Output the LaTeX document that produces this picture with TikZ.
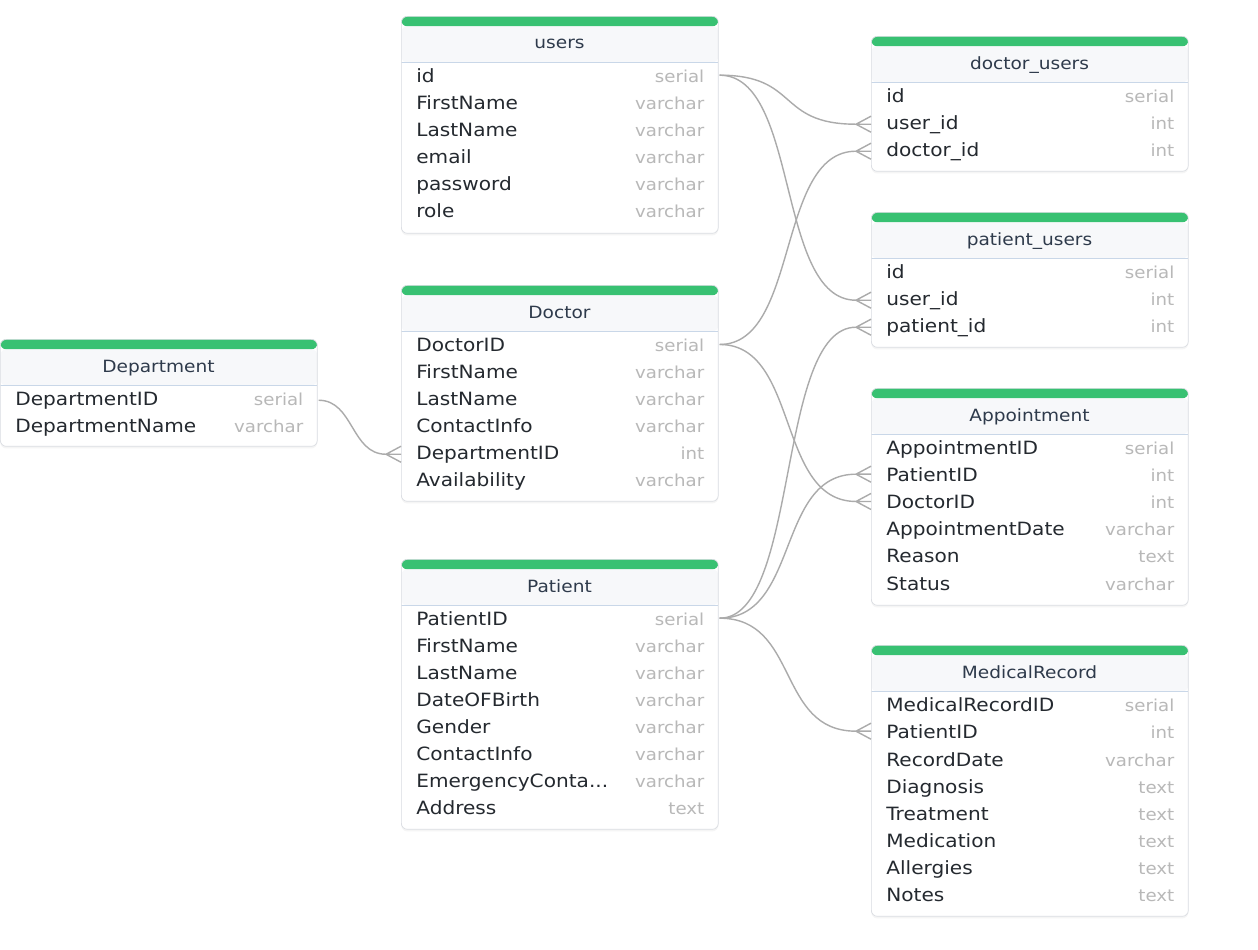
\documentclass[tikz,border=0pt]{standalone}
\usepackage{fontspec}
\setmainfont[FakeStretch=1.1]{DejaVu Sans}
\usetikzlibrary{shadows}

\definecolor{tgreen}{HTML}{38C172}
\definecolor{headbg}{HTML}{F7F8FA}
\definecolor{headline}{HTML}{C9D7E8}
\definecolor{frameline}{HTML}{DADDE2}
\definecolor{rowtext}{HTML}{24292F}
\definecolor{titletext}{HTML}{2E3A4B}
\definecolor{typegray}{HTML}{B8B8B8}
\definecolor{linkgray}{HTML}{ABABAB}

\newcommand\dtype[1]{{\color{typegray}\fontsize{9.4}{11}\selectfont #1}}

\tikzset{
  tbl/.style={draw=frameline, fill=white, rounded corners=0.12cm, anchor=north west,
    minimum width=6.34cm, inner sep=0,
    drop shadow={shadow xshift=0pt, shadow yshift=-1.2pt, opacity=0.08},
    path picture={
      \fill[tgreen] (path picture bounding box.north west) rectangle ([yshift=-0.2cm]path picture bounding box.north east);
      \fill[headbg] ([yshift=-0.2cm]path picture bounding box.north west) rectangle ([yshift=-0.92cm]path picture bounding box.north east);
      \draw[headline, line width=0.7pt] ([yshift=-0.92cm]path picture bounding box.north west) -- ([yshift=-0.92cm]path picture bounding box.north east);
    }},
  title/.style={anchor=base, inner sep=0, text=titletext, font=\fontsize{9.6}{11}\selectfont},
  row/.style={anchor=base west, text width=5.76cm, inner xsep=0.3cm, inner ysep=0,
    text=rowtext, font=\fontsize{10.4}{12}\selectfont},
  rel/.style={draw=linkgray, line width=0.8pt,
    to path={(\tikztostart.east) .. controls +(#1,0) and +(-#1,0) .. ([xshift=-0.3cm]\tikztotarget.west)
      -- (\tikztotarget.west)
      ([xshift=-0.3cm]\tikztotarget.west) -- ([yshift=0.16cm]\tikztotarget.west)
      ([xshift=-0.3cm]\tikztotarget.west) -- ([yshift=-0.16cm]\tikztotarget.west)}},
  rel/.default=80
}

\begin{document}
\begin{tikzpicture}[x=0.02cm, y=-0.02cm]
  \useasboundingbox[fill=white] (0,0) rectangle (1258,950);

  % tables
  \node[tbl, minimum height=4.34cm] (users) at (401,16) {};
  \node[title] (users-title) at (559.5,49) {users};
  \node[row] (users-id) at (401,82) {id\hfill\dtype{serial}};
  \node[row] (users-first) at (401,109) {FirstName\hfill\dtype{varchar}};
  \node[row] (users-last) at (401,136) {LastName\hfill\dtype{varchar}};
  \node[row] (users-email) at (401,163) {email\hfill\dtype{varchar}};
  \node[row] (users-pass) at (401,190) {password\hfill\dtype{varchar}};
  \node[row] (users-role) at (401,217) {role\hfill\dtype{varchar}};

  \node[tbl, minimum height=4.32cm] (doctor) at (401,285) {};
  \node[title] (doctor-title) at (559.5,318) {Doctor};
  \node[row] (doctor-id) at (401,351) {DoctorID\hfill\dtype{serial}};
  \node[row] (doctor-first) at (401,378) {FirstName\hfill\dtype{varchar}};
  \node[row] (doctor-last) at (401,405) {LastName\hfill\dtype{varchar}};
  \node[row] (doctor-contact) at (401,432) {ContactInfo\hfill\dtype{varchar}};
  \node[row] (doctor-deptid) at (401,459) {DepartmentID\hfill\dtype{int}};
  \node[row] (doctor-avail) at (401,486) {Availability\hfill\dtype{varchar}};

  \node[tbl, minimum height=5.4cm] (patient) at (401,559) {};
  \node[title] (patient-title) at (559.5,592) {Patient};
  \node[row] (patient-id) at (401,625) {PatientID\hfill\dtype{serial}};
  \node[row] (patient-first) at (401,652) {FirstName\hfill\dtype{varchar}};
  \node[row] (patient-last) at (401,679) {LastName\hfill\dtype{varchar}};
  \node[row] (patient-birth) at (401,706) {DateOFBirth\hfill\dtype{varchar}};
  \node[row] (patient-gender) at (401,733) {Gender\hfill\dtype{varchar}};
  \node[row] (patient-contact) at (401,760) {ContactInfo\hfill\dtype{varchar}};
  \node[row] (patient-emerg) at (401,787) {EmergencyConta...\hfill\dtype{varchar}};
  \node[row] (patient-addr) at (401,814) {Address\hfill\dtype{text}};

  \node[tbl, minimum height=2.14cm] (dept) at (0,339) {};
  \node[title] (dept-title) at (158.5,372) {Department};
  \node[row] (dept-id) at (0,405) {DepartmentID\hfill\dtype{serial}};
  \node[row] (dept-name) at (0,432) {DepartmentName\hfill\dtype{varchar}};

  \node[tbl, minimum height=2.7cm] (dusers) at (871,36) {};
  \node[title] (dusers-title) at (1029.5,69) {doctor\_users};
  \node[row] (dusers-id) at (871,102) {id\hfill\dtype{serial}};
  \node[row] (dusers-userid) at (871,129) {user\_id\hfill\dtype{int}};
  \node[row] (dusers-doctorid) at (871,156) {doctor\_id\hfill\dtype{int}};

  \node[tbl, minimum height=2.7cm] (pusers) at (871,212) {};
  \node[title] (pusers-title) at (1029.5,245) {patient\_users};
  \node[row] (pusers-id) at (871,278) {id\hfill\dtype{serial}};
  \node[row] (pusers-userid) at (871,305) {user\_id\hfill\dtype{int}};
  \node[row] (pusers-patientid) at (871,332) {patient\_id\hfill\dtype{int}};

  \node[tbl, minimum height=4.34cm] (appt) at (871,388) {};
  \node[title] (appt-title) at (1029.5,421) {Appointment};
  \node[row] (appt-id) at (871,454) {AppointmentID\hfill\dtype{serial}};
  \node[row] (appt-patientid) at (871,481) {PatientID\hfill\dtype{int}};
  \node[row] (appt-doctorid) at (871,508) {DoctorID\hfill\dtype{int}};
  \node[row] (appt-date) at (871,535) {AppointmentDate\hfill\dtype{varchar}};
  \node[row] (appt-reason) at (871,562) {Reason\hfill\dtype{text}};
  \node[row] (appt-status) at (871,590) {Status\hfill\dtype{varchar}};

  \node[tbl, minimum height=5.42cm] (medrec) at (871,645) {};
  \node[title] (medrec-title) at (1029.5,678) {MedicalRecord};
  \node[row] (medrec-id) at (871,711) {MedicalRecordID\hfill\dtype{serial}};
  \node[row] (medrec-patientid) at (871,738) {PatientID\hfill\dtype{int}};
  \node[row] (medrec-date) at (871,766) {RecordDate\hfill\dtype{varchar}};
  \node[row] (medrec-diag) at (871,793) {Diagnosis\hfill\dtype{text}};
  \node[row] (medrec-treat) at (871,820) {Treatment\hfill\dtype{text}};
  \node[row] (medrec-med) at (871,847) {Medication\hfill\dtype{text}};
  \node[row] (medrec-allerg) at (871,874) {Allergies\hfill\dtype{text}};
  \node[row] (medrec-notes) at (871,901) {Notes\hfill\dtype{text}};

  % relations
  \draw[rel] (users-id) to (dusers-userid);
  \draw[rel] (users-id) to (pusers-userid);
  \draw[rel] (doctor-id) to (dusers-doctorid);
  \draw[rel] (doctor-id) to (appt-doctorid);
  \draw[rel] (patient-id) to (pusers-patientid);
  \draw[rel] (patient-id) to (appt-patientid);
  \draw[rel] (patient-id) to (medrec-patientid);
  \draw[rel=35] (dept-id) to (doctor-deptid);
\end{tikzpicture}
\end{document}
